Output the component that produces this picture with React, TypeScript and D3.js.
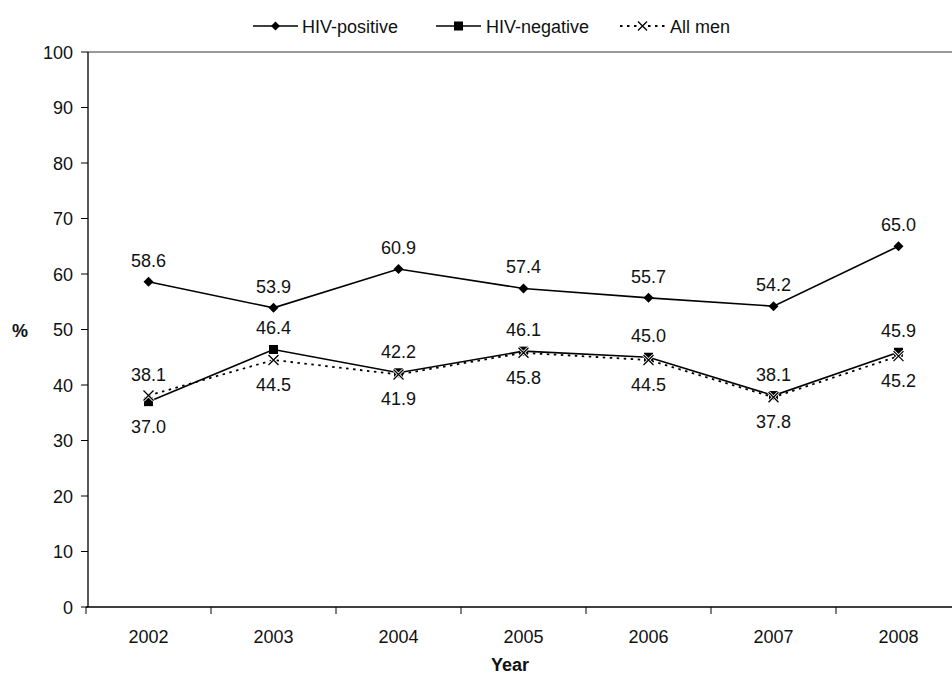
import * as d3 from "d3";

const years = ["2002", "2003", "2004", "2005", "2006", "2007", "2008"];
const hivPositive = [58.6, 53.9, 60.9, 57.4, 55.7, 54.2, 65.0];
const hivNegative = [37.0, 46.4, 42.2, 46.1, 45.0, 38.1, 45.9];
const allMen = [38.1, 44.5, 41.9, 45.8, 44.5, 37.8, 45.2];
// label side per point: -1 above, 1 below
const negLabelSide = [1, -1, -1, -1, -1, -1, -1];
const allLabelSide = [-1, 1, 1, 1, 1, 1, 1];
const yTicks = [0, 10, 20, 30, 40, 50, 60, 70, 80, 90, 100];

const FONT = "'Liberation Sans', Arial, Helvetica, sans-serif";
const FS = 18;

export default function App() {
  const width = 952;
  const height = 675;
  const x = d3.scaleBand<string>().domain(years).range([86, 961]).padding(0);
  const y = d3.scaleLinear().domain([0, 100]).range([607, 52]);
  const cx = (yr: string) => (x(yr) ?? 0) + x.bandwidth() / 2;

  const line = (vals: number[]) =>
    d3
      .line<number>()
      .x((_, i) => cx(years[i]))
      .y((v) => y(v))(vals) ?? "";

  const diamond = (px: number, py: number, r = 5) =>
    `M${px},${py - r}L${px + r},${py}L${px},${py + r}L${px - r},${py}Z`;

  const cross = (px: number, py: number, r = 5) =>
    `M${px - r},${py - r}L${px + r},${py + r}M${px - r},${py + r}L${px + r},${py - r}`;

  const label = (v: number, i: number, side: number) => (
    <text
      key={`l${i}`}
      x={cx(years[i])}
      y={y(v) + (side < 0 ? -15 : 31)}
      textAnchor="middle"
      fontSize={FS}
      fill="#111"
    >
      {v.toFixed(1)}
    </text>
  );

  return (
    <svg
      width={width}
      height={height}
      style={{ position: "absolute", left: 0, top: 0, background: "#fff" }}
      fontFamily={FONT}
    >
      {/* plot border top */}
      <line x1={88} x2={952} y1={y(100)} y2={y(100)} stroke="#999" strokeWidth={2} />

      {/* y axis */}
      <line x1={88} x2={88} y1={y(100)} y2={y(0)} stroke="#000" strokeWidth={1.3} />
      {yTicks.map((t) => (
        <g key={t}>
          <line x1={81} x2={88} y1={y(t)} y2={y(t)} stroke="#000" strokeWidth={1} />
          <text x={73} y={y(t) + 6.5} textAnchor="end" fontSize={FS} fill="#111">
            {t}
          </text>
        </g>
      ))}

      {/* x axis */}
      <line x1={86} x2={952} y1={y(0)} y2={y(0)} stroke="#000" strokeWidth={1.3} />
      {years.map((yr) => (
        <g key={yr}>
          <line x1={x(yr)} x2={x(yr)} y1={y(0)} y2={y(0) + 7} stroke="#000" strokeWidth={1} />
          <text x={cx(yr)} y={643} textAnchor="middle" fontSize={FS} fill="#111">
            {yr}
          </text>
        </g>
      ))}

      <text x={510} y={671} textAnchor="middle" fontSize={FS} fontWeight="bold" fill="#111">
        Year
      </text>
      <text x={20} y={337} textAnchor="middle" fontSize={FS} fontWeight="bold" fill="#111">
        %
      </text>

      {/* series */}
      <path d={line(allMen)} fill="none" stroke="#000" strokeWidth={1.8} strokeDasharray="2.5,4.5" />
      <path d={line(hivNegative)} fill="none" stroke="#000" strokeWidth={1.6} />
      <path d={line(hivPositive)} fill="none" stroke="#000" strokeWidth={1.6} />

      {hivPositive.map((v, i) => (
        <path key={`p${i}`} d={diamond(cx(years[i]), y(v))} fill="#000" />
      ))}
      {hivNegative.map((v, i) => (
        <rect
          key={`n${i}`}
          x={cx(years[i]) - 4.5}
          y={y(v) - 4.5}
          width={9}
          height={9}
          fill="#000"
        />
      ))}
      {allMen.map((v, i) => (
        <g key={`a${i}`}>
          <path d={cross(cx(years[i]), y(v))} stroke="#fff" strokeWidth={3} />
          <path d={cross(cx(years[i]), y(v))} stroke="#000" strokeWidth={1.3} />
        </g>
      ))}

      {hivPositive.map((v, i) => label(v, i, -1))}
      {hivNegative.map((v, i) => label(v, i, negLabelSide[i]))}
      {allMen.map((v, i) => label(v, i, allLabelSide[i]))}

      {/* legend */}
      <g>
        <line x1={253} x2={298} y1={26} y2={26} stroke="#000" strokeWidth={1.6} />
        <path d={diamond(275.5, 26, 4.5)} fill="#000" />
        <text x={302} y={32.5} fontSize={FS} fill="#111">HIV-positive</text>

        <line x1={436} x2={481} y1={26} y2={26} stroke="#000" strokeWidth={1.6} />
        <rect x={454} y={21.5} width={9} height={9} fill="#000" />
        <text x={486} y={32.5} fontSize={FS} fill="#111">HIV-negative</text>

        <line x1={620} x2={665} y1={26} y2={26} stroke="#000" strokeWidth={1.8} strokeDasharray="2.5,4.5" />
        <path d={cross(642.5, 26, 4.5)} stroke="#fff" strokeWidth={3} />
        <path d={cross(642.5, 26, 4.5)} stroke="#000" strokeWidth={1.3} />
        <text x={670} y={32.5} fontSize={FS} fill="#111">All men</text>
      </g>
    </svg>
  );
}
